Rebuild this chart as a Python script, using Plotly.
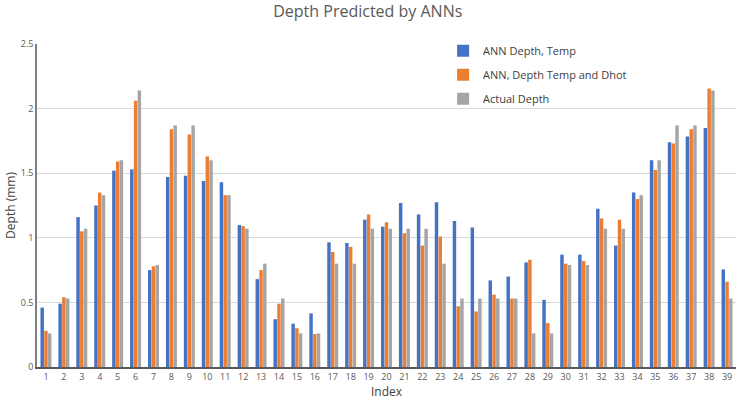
import plotly.graph_objects as go

categories = [str(i) for i in range(1, 40)]
ann_temp = [0.46, 0.49, 1.16, 1.25, 1.52, 1.53, 0.75, 1.47, 1.48, 1.44,
            1.43, 1.10, 0.68, 0.37, 0.335, 0.415, 0.965, 0.96, 1.14, 1.086,
            1.27, 1.18, 1.275, 1.13, 1.08, 0.67, 0.70, 0.81, 0.52, 0.87,
            0.87, 1.225, 0.94, 1.35, 1.60, 1.74, 1.785, 1.85, 0.755]
ann_temp_dhot = [0.28, 0.54, 1.05, 1.35, 1.59, 2.06, 0.78, 1.84, 1.80, 1.63,
                 1.33, 1.09, 0.75, 0.49, 0.30, 0.255, 0.89, 0.93, 1.18, 1.12,
                 1.035, 0.94, 1.01, 0.47, 0.43, 0.56, 0.53, 0.83, 0.34, 0.80,
                 0.82, 1.15, 1.14, 1.30, 1.525, 1.73, 1.84, 2.155, 0.66]
actual_depth = [0.26, 0.53, 1.07, 1.33, 1.60, 2.14, 0.79, 1.87, 1.87, 1.60,
                1.33, 1.07, 0.80, 0.53, 0.26, 0.26, 0.80, 0.80, 1.07, 1.07,
                1.07, 1.07, 0.80, 0.53, 0.53, 0.53, 0.53, 0.26, 0.26, 0.79,
                0.79, 1.07, 1.07, 1.33, 1.60, 1.87, 1.87, 2.14, 0.53]
y_ticks = [0, 0.5, 1, 1.5, 2, 2.5]
y_tick_labels = ["0", "0.5", "1", "1.5", "2", "2.5"]

series = [
    ("ANN Depth, Temp", ann_temp, "#4472C4"),
    ("ANN, Depth Temp and Dhot", ann_temp_dhot, "#ED7D31"),
    ("Actual Depth", actual_depth, "#A5A5A5"),
]

fig = go.Figure()
for i, (name, vals, color) in enumerate(series):
    fig.add_trace(go.Bar(
        x=categories, y=vals, name=name, legendgroup=str(i),
        marker=dict(color=color, line=dict(width=0)),
    ))

font_family = "Open Sans, Liberation Sans, sans-serif"
fig.update_layout(
    width=740, height=401,
    margin=dict(l=37, r=4, t=44, b=34),
    paper_bgcolor="white", plot_bgcolor="white",
    barmode="group", bargap=0.37, bargroupgap=0.08,
    font=dict(family=font_family, color="#595959"),
    title=dict(text="Depth Predicted by ANNs", x=0.497, xanchor="center",
               y=0.985, yanchor="top",
               font=dict(size=16, color="#595959", family=font_family)),
    legend=dict(x=0.581, xanchor="left", y=1.024, yanchor="top",
                bgcolor="rgba(0,0,0,0)", font=dict(size=11, color="#404040"),
                tracegroupgap=5, traceorder="grouped"),
    xaxis=dict(type="category", showline=True, linecolor="#595959", linewidth=1.5,
               ticks="", tickfont=dict(size=9, color="#595959"),
               title=dict(text="Index", font=dict(size=12, color="#404040"), standoff=6)),
    yaxis=dict(range=[0, 2.5], tickvals=y_ticks, ticktext=y_tick_labels,
               showgrid=True, gridcolor="#D9D9D9", gridwidth=1,
               showline=True, linecolor="#7F7F7F", linewidth=1.5,
               zeroline=False, ticks="", tickfont=dict(size=9, color="#595959"),
               title=dict(text="Depth (mm)", font=dict(size=12, color="#404040"), standoff=3)),
)

fig.write_html("out.html", config={"displayModeBar": False},
               post_script="document.body.style.margin='0';")
